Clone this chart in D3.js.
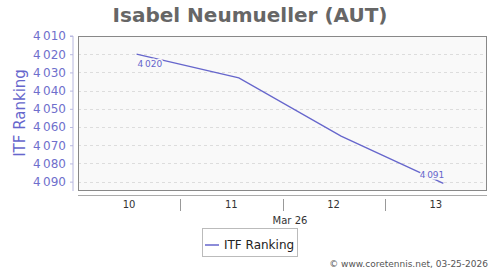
<!DOCTYPE html>
<html>
<head>
<meta charset="utf-8">
<script src="https://cdn.jsdelivr.net/npm/d3@7"></script>
<style>
  body { margin: 0; background: #fff; }
  text { font-family: "DejaVu Sans", sans-serif; }
</style>
</head>
<body>
<div id="chart"></div>
<script>
// chart data
let dates = ['2026-03-10T13:45', '2026-03-11T13:45', '2026-03-12T13:45', '2026-03-13T13:45'];
let rankings = [4020, 4033, 4065, 4091];
let yTicks = [4010, 4020, 4030, 4040, 4050, 4060, 4070, 4080, 4090];
let dayLabels = ['10', '11', '12', '13'];
let seriesName = 'ITF Ranking';
let title = 'Isabel Neumueller (AUT)';

let svgWidth = 500;
let svgHeight = 270;
let margin = { top: 36, right: 13, bottom: 80, left: 78 };
let width = svgWidth - margin.left - margin.right;
let height = svgHeight - margin.top - margin.bottom;

let lineColor = '#6666cc';
let parse = d3.timeParse('%Y-%m-%dT%H:%M');
let points = dates.map((d, i) => ({ date: parse(d), value: rankings[i] }));

let svg = d3.select('#chart').append('svg')
    .attr('width', svgWidth)
    .attr('height', svgHeight);

// title
svg.append('text')
    .attr('x', 250).attr('y', 22)
    .attr('text-anchor', 'middle')
    .attr('font-size', 20).attr('font-weight', 'bold')
    .attr('fill', '#666')
    .text(title);

let chartGroup = svg.append('g')
    .attr('transform', `translate(${margin.left}, ${margin.top})`);

// scales
let xScale = d3.scaleTime()
    .domain([new Date(2026, 2, 10), new Date(2026, 2, 14)])
    .range([0, width]);
let yScale = d3.scaleLinear()
    .domain([4010, 4094.6])
    .range([0, height]);

// plot background
chartGroup.append('rect')
    .attr('width', width).attr('height', height)
    .attr('fill', '#f9f9f9');

// grid
chartGroup.selectAll('.grid').data(yTicks.slice(1)).enter()
    .append('line')
    .attr('x1', 0).attr('x2', width)
    .attr('y1', d => Math.round(yScale(d)) + 0.5)
    .attr('y2', d => Math.round(yScale(d)) + 0.5)
    .attr('stroke', '#ddd')
    .attr('stroke-dasharray', '3,3');

// y axis
let fmt = d => d3.format(',')(d).replace(',', '\u2009');
let leftAxis = d3.axisLeft(yScale).tickValues(yTicks).tickFormat(fmt).tickSize(3).tickPadding(4);
let yAxis = chartGroup.append('g')
    .attr('transform', 'translate(-5, 0)')
    .call(leftAxis);
yAxis.select('.domain').attr('stroke', '#b8b8e0').attr('d', `M-3,0H0V${height + 1}`);
yAxis.selectAll('.tick line').attr('stroke', '#b8b8e0');
yAxis.selectAll('.tick text')
    .attr('font-size', 12).attr('fill', '#6f6fcc')
    .attr('font-family', '"DejaVu Sans", sans-serif');

svg.append('text')
    .attr('transform', `translate(25, ${margin.top + height / 2}) rotate(-90)`)
    .attr('text-anchor', 'middle')
    .attr('font-size', 15)
    .attr('fill', lineColor)
    .text(seriesName);

// line
let line = d3.line()
    .x(d => xScale(d.date))
    .y(d => yScale(d.value));

chartGroup.append('path')
    .datum(points)
    .attr('fill', 'none')
    .attr('stroke', lineColor)
    .attr('stroke-width', 1.3)
    .attr('d', line);

// point labels for first and last
let first = points[0];
let last = points[points.length - 1];
[[first, 'start', 1, 12.5], [last, 'end', 1, -5.5]].forEach(([p, anchor, dx, dy]) => {
  chartGroup.append('text')
    .attr('x', xScale(p.date) + dx)
    .attr('y', yScale(p.value) + dy)
    .attr('text-anchor', anchor)
    .attr('font-size', 9)
    .attr('fill', lineColor)
    .attr('stroke', '#f9f9f9').attr('stroke-width', 3)
    .attr('paint-order', 'stroke')
    .text(fmt(p.value));
});

// border
chartGroup.append('rect')
    .attr('x', 0.5).attr('y', 0.5)
    .attr('width', width - 1).attr('height', height)
    .attr('fill', 'none')
    .attr('stroke', '#888');

// x axis below
let xg = svg.append('g').attr('transform', `translate(${margin.left}, ${margin.top + height + 5})`);
xg.append('line')
    .attr('x1', 0).attr('x2', width)
    .attr('y1', 0.5).attr('y2', 0.5)
    .attr('stroke', '#aaa');
let days = d3.timeDay.range(new Date(2026, 2, 10), new Date(2026, 2, 14));
xg.selectAll('.sep').data(days.slice(1)).enter()
    .append('line')
    .attr('x1', d => Math.round(xScale(d)) + 0.5)
    .attr('x2', d => Math.round(xScale(d)) + 0.5)
    .attr('y1', 4).attr('y2', 16)
    .attr('stroke', '#999');
xg.selectAll('.dl').data(days).enter()
    .append('text')
    .attr('x', d => xScale(d3.timeHour.offset(d, 12)))
    .attr('y', 13)
    .attr('text-anchor', 'middle')
    .attr('font-size', 10)
    .attr('fill', '#333')
    .text((d, i) => dayLabels[i]);
xg.append('text')
    .attr('x', 212).attr('y', 29)
    .attr('text-anchor', 'middle')
    .attr('font-size', 10)
    .attr('fill', '#333')
    .text('Mar 26');

// legend
let lg = svg.append('g').attr('transform', 'translate(202, 228)');
lg.append('rect')
    .attr('x', 0.5).attr('y', 0.5)
    .attr('width', 95).attr('height', 28)
    .attr('fill', '#fff').attr('stroke', '#bbb');
lg.append('line')
    .attr('x1', 3).attr('x2', 17)
    .attr('y1', 17).attr('y2', 17)
    .attr('stroke', lineColor).attr('stroke-width', 1.5);
lg.append('text')
    .attr('x', 22).attr('y', 21)
    .attr('font-size', 12)
    .attr('fill', '#222')
    .text(seriesName);

// credit
svg.append('text')
    .attr('x', 488).attr('y', 267)
    .attr('text-anchor', 'end')
    .attr('font-size', 9)
    .attr('fill', '#555')
    .text('\u00a9 www.coretennis.net, 03-25-2026');
</script>
</body>
</html>
